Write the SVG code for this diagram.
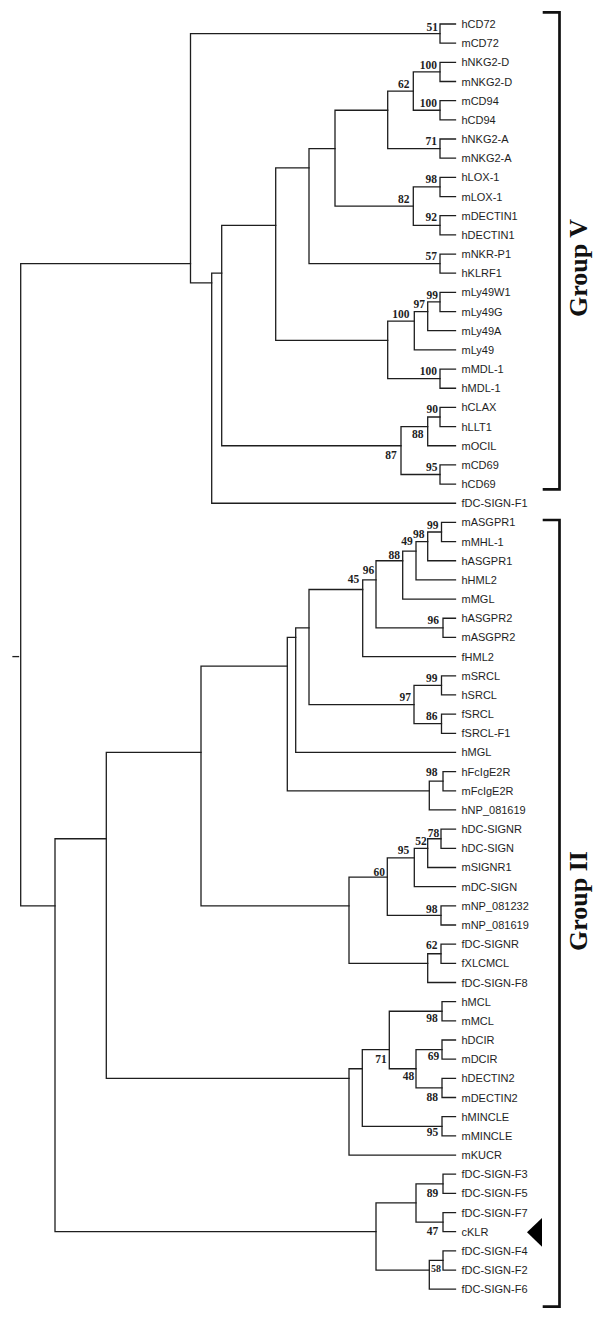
<svg xmlns="http://www.w3.org/2000/svg" width="600" height="1324" viewBox="0 0 600 1324">
<style>
.e{fill:none;stroke:#1e1e1e;stroke-width:1.3;stroke-linecap:square}
.br{fill:none;stroke:#111;stroke-width:2.7}
.lf{font-family:"Liberation Sans",Arial,sans-serif;font-size:11px;fill:#1e1e1e}
.bs{font-family:"Liberation Serif","Times New Roman",serif;font-size:11.5px;font-weight:bold;fill:#1e1e1e;text-anchor:end}
.gp{font-family:"Liberation Serif","Times New Roman",serif;font-size:26px;font-weight:bold;fill:#111;text-anchor:middle}
</style>
<rect width="600" height="1324" fill="#fff"/>
<g id="connectors" class="e">
<path d="M13 656.6H18.5"/>
<path d="M190.5 263.63H20.7V905.82H55"/>
<path d="M455.5 24H440V43.17H455.5"/>
<path d="M440 33.59H190.5V282.8H211.7"/>
<path d="M221.7 273.21H211.7V503.25H455.5"/>
<path d="M275.7 225.29H221.7V445.74H401"/>
<path d="M309 167.78H275.7V340.31H387.7"/>
<path d="M335 148.61H309V263.63H440"/>
<path d="M387.7 110.27H335V206.12H413.3"/>
<path d="M413.3 91.1H387.7V148.61H440"/>
<path d="M440 71.93H413.3V110.27H440"/>
<path d="M455.5 62.34H440V81.51H455.5"/>
<path d="M455.5 100.68H440V119.85H455.5"/>
<path d="M455.5 139.02H440V158.19H455.5"/>
<path d="M440 186.95H413.3V225.29H440"/>
<path d="M455.5 177.36H440V196.53H455.5"/>
<path d="M455.5 215.7H440V234.87H455.5"/>
<path d="M455.5 254.04H440V273.21H455.5"/>
<path d="M414.3 321.14H387.7V378.65H440"/>
<path d="M427.7 311.55H414.3V349.89H455.5"/>
<path d="M440 301.97H427.7V330.72H455.5"/>
<path d="M455.5 292.38H440V311.55H455.5"/>
<path d="M455.5 369.06H440V388.23H455.5"/>
<path d="M427.7 426.57H401V474.5H440"/>
<path d="M440 416.99H427.7V445.74H455.5"/>
<path d="M455.5 407.4H440V426.57H455.5"/>
<path d="M455.5 464.91H440V484.08H455.5"/>
<path d="M106.3 838.73H55V1231.71H376"/>
<path d="M201 752.46H106.3V1078.35H349"/>
<path d="M287.3 666.2H201V905.82H349"/>
<path d="M295.7 637.44H287.3V790.8H429.3"/>
<path d="M309 627.86H295.7V752.46H455.5"/>
<path d="M362.7 589.52H309V704.54H414"/>
<path d="M376 579.93H362.7V656.61H455.5"/>
<path d="M402.7 560.76H376V627.86H443"/>
<path d="M416 551.18H402.7V599.1H455.5"/>
<path d="M427.7 541.59H416V579.93H455.5"/>
<path d="M441.5 532.01H427.7V560.76H455.5"/>
<path d="M455.5 522.42H441.5V541.59H455.5"/>
<path d="M455.5 618.27H443V637.44H455.5"/>
<path d="M441.5 685.37H414V723.71H441.5"/>
<path d="M455.5 675.78H441.5V694.95H455.5"/>
<path d="M455.5 714.12H441.5V733.29H455.5"/>
<path d="M443 781.22H429.3V809.97H455.5"/>
<path d="M455.5 771.63H443V790.8H455.5"/>
<path d="M387.3 877.07H349V963.33H427.7"/>
<path d="M414.3 857.9H387.3V915.41H441"/>
<path d="M427.7 848.31H414.3V886.65H455.5"/>
<path d="M441 838.73H427.7V867.48H455.5"/>
<path d="M455.5 829.14H441V848.31H455.5"/>
<path d="M455.5 905.82H441V924.99H455.5"/>
<path d="M441 953.75H427.7V982.5H455.5"/>
<path d="M455.5 944.16H441V963.33H455.5"/>
<path d="M362.3 1068.77H349V1155.03H455.5"/>
<path d="M389.3 1049.6H362.3V1126.28H442"/>
<path d="M442 1011.26H389.3V1068.77H416"/>
<path d="M442 1049.6H416V1087.94H442"/>
<path d="M455.5 1001.67H442V1020.84H455.5"/>
<path d="M455.5 1040.01H442V1059.18H455.5"/>
<path d="M455.5 1078.35H442V1097.52H455.5"/>
<path d="M455.5 1116.69H442V1135.86H455.5"/>
<path d="M416 1202.95H376V1270.05H429.3"/>
<path d="M443 1183.79H416V1222.13H443"/>
<path d="M455.5 1174.2H443V1193.37H455.5"/>
<path d="M455.5 1212.54H443V1231.71H455.5"/>
<path d="M443 1260.47H429.3V1289.22H455.5"/>
<path d="M455.5 1250.88H443V1270.05H455.5"/>
</g>
<g id="bootstrap">
<text class="bs" x="438" y="30.5">51</text>
<text class="bs" x="437" y="68.5">100</text>
<text class="bs" x="409.5" y="88.3">62</text>
<text class="bs" x="437" y="107.3">100</text>
<text class="bs" x="437" y="144.5">71</text>
<text class="bs" x="437" y="183">98</text>
<text class="bs" x="409.5" y="203.3">82</text>
<text class="bs" x="437" y="221">92</text>
<text class="bs" x="437" y="260">57</text>
<text class="bs" x="438" y="299">99</text>
<text class="bs" x="425" y="307.5">97</text>
<text class="bs" x="409.5" y="318">100</text>
<text class="bs" x="437" y="374.5">100</text>
<text class="bs" x="438" y="413">90</text>
<text class="bs" x="423.5" y="437.5">88</text>
<text class="bs" x="396.7" y="459">87</text>
<text class="bs" x="437.5" y="471">95</text>
<text class="bs" x="438.5" y="528.5">99</text>
<text class="bs" x="424.5" y="537.5">98</text>
<text class="bs" x="412.7" y="545">49</text>
<text class="bs" x="400" y="558.5">88</text>
<text class="bs" x="374.3" y="574">96</text>
<text class="bs" x="359.3" y="583">45</text>
<text class="bs" x="439" y="623.5">96</text>
<text class="bs" x="437.5" y="682.3">99</text>
<text class="bs" x="411" y="700.7">97</text>
<text class="bs" x="437.5" y="720">86</text>
<text class="bs" x="437.5" y="776">98</text>
<text class="bs" x="439.3" y="836.7">78</text>
<text class="bs" x="426.7" y="844.7">52</text>
<text class="bs" x="409.3" y="854">95</text>
<text class="bs" x="385" y="875.7">60</text>
<text class="bs" x="437.5" y="913">98</text>
<text class="bs" x="437.5" y="949.3">62</text>
<text class="bs" x="437.7" y="1022">98</text>
<text class="bs" x="386.7" y="1062.7">71</text>
<text class="bs" x="439.3" y="1060">69</text>
<text class="bs" x="414.3" y="1080">48</text>
<text class="bs" x="438" y="1100.7">88</text>
<text class="bs" x="438.3" y="1136">95</text>
<text class="bs" x="438.3" y="1196.7">89</text>
<text class="bs" x="438.3" y="1235">47</text>
<text class="bs" x="441" y="1271.5" style="font-size:10px">58</text>
</g>
<g id="leaf-hCD72"><text class="lf" x="461.5" y="28">hCD72</text></g>
<g id="leaf-mCD72"><text class="lf" x="461.5" y="47.17">mCD72</text></g>
<g id="leaf-hNKG2-D"><text class="lf" x="461.5" y="66.34">hNKG2-D</text></g>
<g id="leaf-mNKG2-D"><text class="lf" x="461.5" y="85.51">mNKG2-D</text></g>
<g id="leaf-mCD94"><text class="lf" x="461.5" y="104.68">mCD94</text></g>
<g id="leaf-hCD94"><text class="lf" x="461.5" y="123.85">hCD94</text></g>
<g id="leaf-hNKG2-A"><text class="lf" x="461.5" y="143.02">hNKG2-A</text></g>
<g id="leaf-mNKG2-A"><text class="lf" x="461.5" y="162.19">mNKG2-A</text></g>
<g id="leaf-hLOX-1"><text class="lf" x="461.5" y="181.36">hLOX-1</text></g>
<g id="leaf-mLOX-1"><text class="lf" x="461.5" y="200.53">mLOX-1</text></g>
<g id="leaf-mDECTIN1"><text class="lf" x="461.5" y="219.7">mDECTIN1</text></g>
<g id="leaf-hDECTIN1"><text class="lf" x="461.5" y="238.87">hDECTIN1</text></g>
<g id="leaf-mNKR-P1"><text class="lf" x="461.5" y="258.04">mNKR-P1</text></g>
<g id="leaf-hKLRF1"><text class="lf" x="461.5" y="277.21">hKLRF1</text></g>
<g id="leaf-mLy49W1"><text class="lf" x="461.5" y="296.38">mLy49W1</text></g>
<g id="leaf-mLy49G"><text class="lf" x="461.5" y="315.55">mLy49G</text></g>
<g id="leaf-mLy49A"><text class="lf" x="461.5" y="334.72">mLy49A</text></g>
<g id="leaf-mLy49"><text class="lf" x="461.5" y="353.89">mLy49</text></g>
<g id="leaf-mMDL-1"><text class="lf" x="461.5" y="373.06">mMDL-1</text></g>
<g id="leaf-hMDL-1"><text class="lf" x="461.5" y="392.23">hMDL-1</text></g>
<g id="leaf-hCLAX"><text class="lf" x="461.5" y="411.4">hCLAX</text></g>
<g id="leaf-hLLT1"><text class="lf" x="461.5" y="430.57">hLLT1</text></g>
<g id="leaf-mOCIL"><text class="lf" x="461.5" y="449.74">mOCIL</text></g>
<g id="leaf-mCD69"><text class="lf" x="461.5" y="468.91">mCD69</text></g>
<g id="leaf-hCD69"><text class="lf" x="461.5" y="488.08">hCD69</text></g>
<g id="leaf-fDC-SIGN-F1"><text class="lf" x="461.5" y="507.25">fDC-SIGN-F1</text></g>
<g id="leaf-mASGPR1"><text class="lf" x="461.5" y="526.42">mASGPR1</text></g>
<g id="leaf-mMHL-1"><text class="lf" x="461.5" y="545.59">mMHL-1</text></g>
<g id="leaf-hASGPR1"><text class="lf" x="461.5" y="564.76">hASGPR1</text></g>
<g id="leaf-hHML2"><text class="lf" x="461.5" y="583.93">hHML2</text></g>
<g id="leaf-mMGL"><text class="lf" x="461.5" y="603.1">mMGL</text></g>
<g id="leaf-hASGPR2"><text class="lf" x="461.5" y="622.27">hASGPR2</text></g>
<g id="leaf-mASGPR2"><text class="lf" x="461.5" y="641.44">mASGPR2</text></g>
<g id="leaf-fHML2"><text class="lf" x="461.5" y="660.61">fHML2</text></g>
<g id="leaf-mSRCL"><text class="lf" x="461.5" y="679.78">mSRCL</text></g>
<g id="leaf-hSRCL"><text class="lf" x="461.5" y="698.95">hSRCL</text></g>
<g id="leaf-fSRCL"><text class="lf" x="461.5" y="718.12">fSRCL</text></g>
<g id="leaf-fSRCL-F1"><text class="lf" x="461.5" y="737.29">fSRCL-F1</text></g>
<g id="leaf-hMGL"><text class="lf" x="461.5" y="756.46">hMGL</text></g>
<g id="leaf-hFcIgE2R"><text class="lf" x="461.5" y="775.63">hFcIgE2R</text></g>
<g id="leaf-mFcIgE2R"><text class="lf" x="461.5" y="794.8">mFcIgE2R</text></g>
<g id="leaf-hNP_081619"><text class="lf" x="461.5" y="813.97">hNP_081619</text></g>
<g id="leaf-hDC-SIGNR"><text class="lf" x="461.5" y="833.14">hDC-SIGNR</text></g>
<g id="leaf-hDC-SIGN"><text class="lf" x="461.5" y="852.31">hDC-SIGN</text></g>
<g id="leaf-mSIGNR1"><text class="lf" x="461.5" y="871.48">mSIGNR1</text></g>
<g id="leaf-mDC-SIGN"><text class="lf" x="461.5" y="890.65">mDC-SIGN</text></g>
<g id="leaf-mNP_081232"><text class="lf" x="461.5" y="909.82">mNP_081232</text></g>
<g id="leaf-mNP_081619"><text class="lf" x="461.5" y="928.99">mNP_081619</text></g>
<g id="leaf-fDC-SIGNR"><text class="lf" x="461.5" y="948.16">fDC-SIGNR</text></g>
<g id="leaf-fXLCMCL"><text class="lf" x="461.5" y="967.33">fXLCMCL</text></g>
<g id="leaf-fDC-SIGN-F8"><text class="lf" x="461.5" y="986.5">fDC-SIGN-F8</text></g>
<g id="leaf-hMCL"><text class="lf" x="461.5" y="1005.67">hMCL</text></g>
<g id="leaf-mMCL"><text class="lf" x="461.5" y="1024.84">mMCL</text></g>
<g id="leaf-hDCIR"><text class="lf" x="461.5" y="1044.01">hDCIR</text></g>
<g id="leaf-mDCIR"><text class="lf" x="461.5" y="1063.18">mDCIR</text></g>
<g id="leaf-hDECTIN2"><text class="lf" x="461.5" y="1082.35">hDECTIN2</text></g>
<g id="leaf-mDECTIN2"><text class="lf" x="461.5" y="1101.52">mDECTIN2</text></g>
<g id="leaf-hMINCLE"><text class="lf" x="461.5" y="1120.69">hMINCLE</text></g>
<g id="leaf-mMINCLE"><text class="lf" x="461.5" y="1139.86">mMINCLE</text></g>
<g id="leaf-mKUCR"><text class="lf" x="461.5" y="1159.03">mKUCR</text></g>
<g id="leaf-fDC-SIGN-F3"><text class="lf" x="461.5" y="1178.2">fDC-SIGN-F3</text></g>
<g id="leaf-fDC-SIGN-F5"><text class="lf" x="461.5" y="1197.37">fDC-SIGN-F5</text></g>
<g id="leaf-fDC-SIGN-F7"><text class="lf" x="461.5" y="1216.54">fDC-SIGN-F7</text></g>
<g id="leaf-cKLR"><text class="lf" x="461.5" y="1235.71">cKLR</text></g>
<g id="leaf-fDC-SIGN-F4"><text class="lf" x="461.5" y="1254.88">fDC-SIGN-F4</text></g>
<g id="leaf-fDC-SIGN-F2"><text class="lf" x="461.5" y="1274.05">fDC-SIGN-F2</text></g>
<g id="leaf-fDC-SIGN-F6"><text class="lf" x="461.5" y="1293.22">fDC-SIGN-F6</text></g>
<g id="group-V">
<path class="br" d="M542.7 12.3H559.5V489.3H542.7"/>
<text class="gp" transform="translate(587 268) rotate(-90)">Group V</text>
</g>
<g id="group-II">
<path class="br" d="M542.7 520H559.5V1306.7H542.7"/>
<text class="gp" transform="translate(587 901) rotate(-90)">Group II</text>
</g>
<g id="marker-cKLR"><polygon points="527,1232.3 542,1218 542,1246.7" fill="#000"/></g>
</svg>
